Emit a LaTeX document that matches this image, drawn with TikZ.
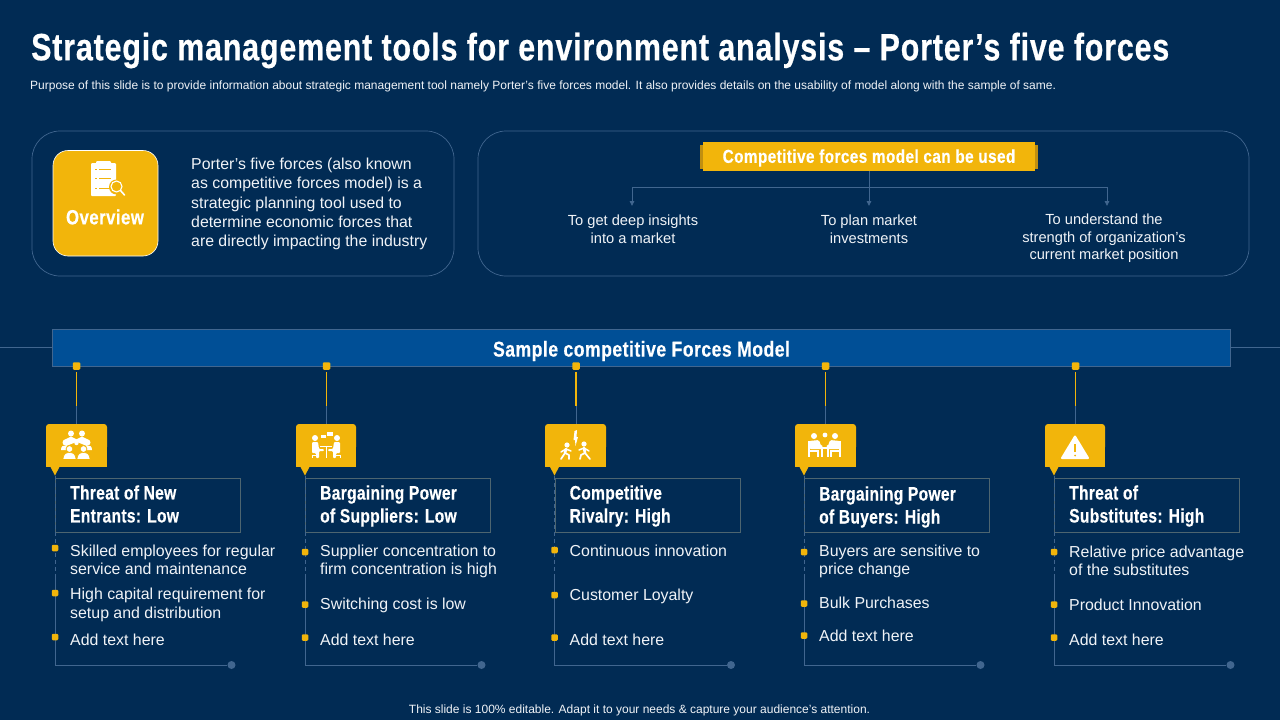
\documentclass[tikz,border=0pt]{standalone}
\usepackage{fontspec}
\usetikzlibrary{arrows.meta}
\setmainfont{Liberation Sans}
\newfontfamily\condf[FakeStretch=0.8,LetterSpace=1.5,FakeBold=0.4]{Liberation Sans}
\newfontfamily\wcondf[FakeStretch=0.82,LetterSpace=2.2,FakeBold=0.4]{Liberation Sans}
\newfontfamily\titlef[FakeStretch=0.8,LetterSpace=2.2,FakeBold=0.5]{Liberation Sans}
\definecolor{bgc}{HTML}{012B54}
\definecolor{yel}{HTML}{F2B50B}
\definecolor{yeld}{HTML}{C08F10}
\definecolor{linec}{HTML}{41668F}
\definecolor{boxc}{HTML}{4D6570}
\definecolor{barc}{HTML}{004F96}
\definecolor{txt}{HTML}{F0F3F7}
\tikzset{
  body/.style={text=txt,inner sep=0pt,align=left,anchor=west,font=\fontsize{15.9}{18.5}\selectfont},
  mid/.style={text=txt,inner sep=0pt,align=center,font=\fontsize{14.65}{17.6}\selectfont},
  cardtitle/.style={text=white,inner sep=0pt,align=left,anchor=west,font=\condf\bfseries\fontsize{19.5}{23}\selectfont},
  panel/.style={draw=linec,line width=0.7pt,rounded corners=28pt,fill=none},
  thin/.style={draw=linec,line width=0.9pt},
  arrowed/.style={thin,-{Triangle[width=4.5pt,length=5pt]}},
  bulletdot/.style={fill=yel,rounded corners=1.2pt,minimum size=6.5pt,inner sep=0pt},
  enddot/.style={circle,fill=linec,minimum size=8pt,inner sep=0pt},
  inkl/.style={draw=white,line cap=round,line join=round},
}
% #1 id, #2 tab left, #3 tab right, #4 column x, #5 dot x, #6 title, #7 title y
\newcommand{\forcecol}[7]{
  \node[bulletdot,minimum size=7.5pt] (dot#1) at (#5,366) {};
  \coordinate (turn#1) at (#5,406);
  \fill[yel,rounded corners=3pt] (#2,424) rectangle (#3,450);
  \fill[yel] (#2,435) rectangle (#3,467);
  \node[inner sep=0pt,minimum width=#3pt-#2pt,minimum height=43pt] (tab#1) at ({(#2+#3)/2},445.5) {};
  \fill[yel] ({#4-5},466) -- (#4,475.5) -- ({#4+5},466) -- cycle;
  \coordinate (tip#1) at (#4,475.5);
  \coordinate (dashend#1) at (#4,575);
  \draw[draw=yel,line width=1.6pt] ([yshift=-2pt]dot#1.south) -- (turn#1);
  \draw[thin] (turn#1) -- (turn#1 |- tab#1.north);
  \node[draw=boxc,line width=0.8pt,minimum width=185pt,minimum height=53.5pt,inner sep=0pt,anchor=north west] (box#1) at (#4,478) {};
  \node[cardtitle] (title#1) at ({#4+15},#7) {#6};
  \node[enddot] (end#1) at ({#4+176.5},665) {};
  \draw[thin,dash pattern=on 4pt off 3pt] (tip#1) -- (dashend#1);
  \draw[thin] (dashend#1) -- (#4,665) -- (end#1);
}
% #1 column x, #2 bullet y, #3 text y, #4 text
\newcommand{\bul}[4]{
  \node[bulletdot] at (#1,#2) {};
  \node[body] at ({#1+15},#3) {#4};
}
\begin{document}
\begin{tikzpicture}[x=1pt,y=-1pt]
\useasboundingbox[fill=bgc] (0,0) rectangle (1280,720);

% header
\node[text=white,inner sep=0pt,anchor=west,font=\titlef\bfseries\fontsize{38}{42}\selectfont] (title) at (31,50.5) {Strategic management tools for environment analysis – Porter’s five forces};
\node[text=txt,inner sep=0pt,anchor=west,font=\fontsize{12}{14}\selectfont] (sub) at (30,86) {Purpose of this slide is to provide information about strategic management tool namely Porter’s five forces model. It also provides details on the usability of model along with the sample of same.};

% panels
\draw[panel] (32,131) rectangle (454,276);
\draw[panel] (478,131) rectangle (1249,276);

% overview
\draw[fill=yel,draw=white,line width=0.6pt,rounded corners=15pt] (53,150.5) rectangle (158,256);
\node[text=white,inner sep=0pt,font=\wcondf\bfseries\fontsize{20.5}{24}\selectfont] (ov) at (105,217) {Overview};
\fill[white,rounded corners=1pt] (91,163) rectangle (116,196);
\fill[white,rounded corners=1pt] (96,161) rectangle (111,165);
\foreach \yy in {169,178,188}{
  \draw[yel,line width=0.7pt] (95,\yy) -- (97,\yy);
  \draw[yel,line width=0.7pt] (99,\yy) -- (111,\yy);
}
\fill[yel] (116.5,187) circle (7.5pt);
\draw[white,line width=1.1pt,fill=yel] (116.5,186.5) circle (5.5pt);
\draw[white,line width=1.6pt,line cap=round] (120.5,190.5) -- (124.5,195);
\node[body,font=\fontsize{15.85}{19.2}\selectfont] (ovtext) at (191,204) {Porter’s five forces (also known\\as competitive forces model) is a\\strategic planning tool used to\\determine economic forces that\\are directly impacting the industry};

% banner
\fill[yeld] (700,145) rectangle (1038,169);
\node[fill=yel,inner sep=0pt,minimum width=332pt,minimum height=29pt] (banner) at (869,156.5) {};
\node[text=white,inner sep=0pt,font=\wcondf\bfseries\fontsize{18.7}{22}\selectfont] (bannertext) at (869,158) {Competitive forces model can be used};
\coordinate (hub) at (869,187);
\coordinate (armL) at (632,187);
\coordinate (armR) at (1107,187);
\coordinate (endL) at (632,206);
\coordinate (endM) at (869,206);
\coordinate (endR) at (1107,206);
\draw[arrowed] (banner.south) -- (endM);
\draw[arrowed] (hub) -- (armL) -- (endL);
\draw[arrowed] (hub) -- (armR) -- (endR);
\node[mid] (useL) at (633,229) {To get deep insights\\into a market};
\node[mid] (useM) at (869,229) {To plan market\\investments};
\node[mid] (useR) at (1104,238.5) {To understand the\\strength of organization’s\\current market position};

% sample bar
\draw[thin] (0,347.5) -- (1280,347.5);
\node[fill=barc,draw=linec,line width=0.8pt,inner sep=0pt,minimum width=1178.5pt,minimum height=37pt] (bar) at (641.5,347.5) {};
\node[text=white,inner sep=0pt,font=\wcondf\bfseries\fontsize{21.5}{24}\selectfont] (bartext) at (641.5,351) {Sample competitive Forces Model};

% columns
\forcecol{a}{46}{107}{55}{76.5}{Threat of New\\Entrants: Low}{504}
\forcecol{b}{296}{356}{305}{326.5}{Bargaining Power\\of Suppliers: Low}{506}
\forcecol{c}{545}{606}{554.5}{576}{Competitive\\Rivalry: High}{506}
\forcecol{d}{795}{856}{804}{825.5}{Bargaining Power\\of Buyers: High}{507}
\forcecol{e}{1045}{1105}{1054}{1075.5}{Threat of\\Substitutes: High}{506}

\bul{55}{548}{560}{Skilled employees for regular\\service and maintenance}
\bul{55}{593}{605}{High capital requirement for\\setup and distribution}
\bul{55}{637}{640}{Add text here}
\bul{305}{552}{561.5}{Supplier concentration to\\firm concentration is high}
\bul{305}{604.5}{605}{Switching cost is low}
\bul{305}{637.5}{640}{Add text here}
\bul{554.5}{550}{551}{Continuous innovation}
\bul{554.5}{595}{596.5}{Customer Loyalty}
\bul{554.5}{637.5}{640}{Add text here}
\bul{804}{552}{561.5}{Buyers are sensitive to\\price change}
\bul{804}{603.5}{603}{Bulk Purchases}
\bul{804}{635.5}{636}{Add text here}
\bul{1054}{552}{561}{Relative price advantage\\of the substitutes}
\bul{1054}{604.5}{605}{Product Innovation}
\bul{1054}{637.5}{640}{Add text here}

% footer
\node[text=txt,inner sep=0pt,font=\fontsize{12}{14}\selectfont] (foot) at (639.5,710.5) {This slide is 100\% editable. Adapt it to your needs \& capture your audience’s attention.};

% icon 1: group
\fill[white] (71,433.5) circle (3pt);
\fill[white] (82,433.5) circle (3pt);
\fill[white] (65.5,442.5) circle (3pt);
\fill[white] (87.5,442.5) circle (3pt);
\fill[white] (76.5,443) circle (2.2pt);
\fill[white] (64,440) -- (71,436.5) -- (78,440) -- (76.5,442) -- (66,446) -- cycle;
\fill[white] (75,440) -- (82,436.5) -- (89,440) -- (87,446) -- (77,442) -- cycle;
\fill[white] (61,450) .. controls (61,446) and (63,445.5) .. (65.5,445.5) .. controls (68,445.5) and (70,446) .. (71,450) -- cycle;
\fill[white] (82,450) .. controls (83,446) and (85,445.5) .. (87.5,445.5) .. controls (90,445.5) and (92,446) .. (92,450) -- cycle;
\draw[yel,line width=0.8pt,fill=white] (69.5,449) circle (3.4pt);
\draw[yel,line width=0.8pt,fill=white] (83.5,449) circle (3.4pt);
\draw[yel,line width=0.6pt,fill=white] (63,459.5) .. controls (63,454) and (66,452.5) .. (69.5,452.5) .. controls (73,452.5) and (76,454) .. (76,459.5) -- cycle;
\draw[yel,line width=0.6pt,fill=white] (77,459.5) .. controls (77,454) and (80,452.5) .. (83.5,452.5) .. controls (87,452.5) and (90,454) .. (90,459.5) -- cycle;

% icon 2: suppliers at a table
\fill[white] (315,438) circle (3pt);
\fill[white] (337,438) circle (3pt);
\fill[white,rounded corners=1pt] (312,442) -- (318,442) -- (319,449) -- (324,449) -- (324,451) -- (319,451) -- (319,458) -- (316,458) -- (316,453) -- (312,453) -- cycle;
\fill[white,rounded corners=1pt] (340,442) -- (334,442) -- (333,449) -- (328,449) -- (328,451) -- (333,451) -- (333,458) -- (336,458) -- (336,453) -- (340,453) -- cycle;
\draw[white,line width=1pt] (320,446.5) -- (332,446.5);
\draw[white,line width=1pt] (326,446.5) -- (326,458);
\draw[white,line width=1pt] (312,455) -- (316,455) (312,455) -- (312,458) (336,455) -- (340,455) (340,455) -- (340,458);
\fill[white] (321,434.5) rectangle (326,438);
\fill[white] (327,431.5) rectangle (333,435.5);

% icon 3: rivalry
\fill[white] (574.5,431) -- (577,430) -- (576.5,437) -- (578,437) -- (575.5,446) -- (575,440) -- (573.5,440) -- cycle;
\fill[white] (567,445) circle (2.6pt);
\fill[white] (584,444) circle (2.6pt);
\draw[inkl,line width=2.6pt] (566,449) -- (565,453);
\draw[inkl,line width=1.5pt] (566,449) -- (571,451);
\draw[inkl,line width=1.5pt] (566,449) -- (561,452);
\draw[inkl,line width=1.7pt] (565,453) -- (561,459);
\draw[inkl,line width=1.7pt] (565,453) -- (569,455) -- (569,459);
\draw[inkl,line width=2.6pt] (584,448) -- (585,453);
\draw[inkl,line width=1.5pt] (584,448) -- (579,450);
\draw[inkl,line width=1.5pt] (584,448) -- (589,451);
\draw[inkl,line width=1.7pt] (585,453) -- (590,459);
\draw[inkl,line width=1.7pt] (585,453) -- (581,455) -- (580,459);

% icon 4: buyers at a table
\fill[white] (814,436) circle (3pt);
\fill[white] (835,436) circle (3pt);
\fill[white] (825,435) circle (2.4pt);
\fill[white,rounded corners=1.5pt] (809,441) -- (819,440) -- (821,446) -- (823,446) -- (823,449) -- (809,449) -- cycle;
\fill[white,rounded corners=1.5pt] (840,441) -- (830,440) -- (828,446) -- (826,446) -- (826,449) -- (840,449) -- cycle;
\fill[white] (817,447) rectangle (833,449);
\fill[white] (821,449) rectangle (823,457);
\fill[white] (827,449) rectangle (829,457);
\draw[white,line width=1.2pt] (809,441) -- (809,457) (840,441) -- (840,457);
\fill[white] (809,450) rectangle (819,452);
\fill[white] (830,450) rectangle (840,452);
\draw[white,line width=1.2pt] (818,452) -- (818,457) (831,452) -- (831,457);

% icon 5: warning
\draw[white,fill=white,line width=2pt,line join=round] (1075,436.5) -- (1088,458) -- (1062,458) -- cycle;
\draw[yel,line width=1.6pt] (1075,444) -- (1075,452);
\fill[yel] (1075,455.5) circle (1pt);
\end{tikzpicture}
\end{document}
